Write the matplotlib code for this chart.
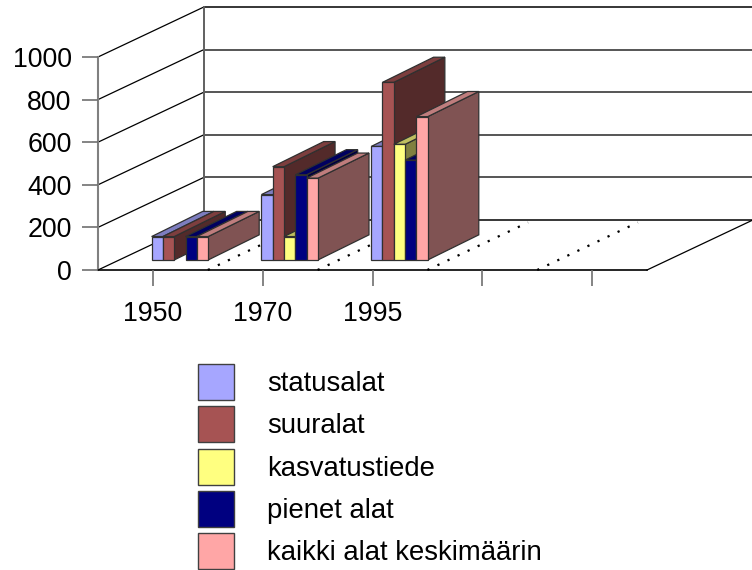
import matplotlib
matplotlib.use("Agg")
import matplotlib.pyplot as plt
from matplotlib.patches import Patch

plt.rcParams['font.family'] = ['Liberation Sans', 'DejaVu Sans']

# Data
categories = ['1950', '1970', '1995', '', '']
series_names = ['statusalat', 'suuralat', 'kasvatustiede', 'pienet alat', 'kaikki alat keskimäärin']
statusalat = [110, 307, 533]
suuralat = [110, 438, 834]
kasvatustiede = [0, 110, 543]
pienet_alat = [110, 400, 469]
kaikki_alat = [110, 384, 673]
yticks = [0, 200, 400, 600, 800, 1000]

series = [statusalat, suuralat, kasvatustiede, pienet_alat, kaikki_alat]
colors = ['#A6A6FF', '#A65353', '#FFFF80', '#000080', '#FFA6A6']

# Fake 3D: how far the back wall and the bars are shifted, in axis units
wall_dx = 0.965
wall_dy = 235
bar_dx = 0.465
bar_dy = 118
bar_base = 47
bar_start = -0.012
bar_w = 0.103


def shade(color, k):
    rgb = matplotlib.colors.to_rgb(color)
    return tuple(c * k for c in rgb)


fig = plt.figure(figsize=(7.52, 5.7), dpi=100)
ax = fig.add_axes([98 / 752, 300 / 570, 549 / 752, 213 / 570])
ax.set_xlim(-0.5, 4.5)
ax.set_ylim(0, 1000)
ax.patch.set_visible(False)
for s in ax.spines.values():
    s.set_visible(False)

# Walls and floor
left = -0.5
right = 4.5
for v in yticks:
    ax.plot([left, left + wall_dx], [v, v + wall_dy], color='black', lw=0.9, clip_on=False, zorder=1)
    c = 'black' if v in (0, 1000) else '#555555'
    w = 1.1 if v in (0, 1000) else 1.4
    ax.plot([left + wall_dx, right + wall_dx], [v + wall_dy, v + wall_dy], color=c, lw=w, clip_on=False, zorder=1)
ax.plot([left, left], [0, 1000], color='#808080', lw=1.5, clip_on=False, zorder=1)
ax.plot([left + wall_dx, left + wall_dx], [wall_dy, 1000 + wall_dy], color='#606060', lw=1.4, clip_on=False, zorder=1)
ax.plot([right, right + wall_dx], [0, wall_dy], color='black', lw=0.9, clip_on=False, zorder=1)
ax.plot([left, right], [0, 0], color='black', lw=1.2, clip_on=False, zorder=1)

# Dotted floor lines between the categories
for i in range(4):
    ax.plot([i + 0.5, i + 0.5 + wall_dx * 0.95], [0, wall_dy * 0.95], color='black', lw=1.6,
            linestyle=(0, (1, 4)), clip_on=False, zorder=1)

# Bars, left to right so the right ones cover the sides of the left ones
z = 2
edge = '#303030'
for g in range(3):
    for i in range(5):
        v = series[i][g]
        if v == 0:
            continue
        x0 = g + bar_start + i * bar_w
        x1 = x0 + bar_w
        top = bar_base + v
        ax.fill([x1, x1 + bar_dx, x1 + bar_dx, x1],
                [bar_base, bar_base + bar_dy, top + bar_dy, top],
                facecolor=shade(colors[i], 0.5), edgecolor=edge, lw=0.9, clip_on=False, zorder=z)
        ax.fill([x0, x1, x1 + bar_dx, x0 + bar_dx],
                [top, top, top + bar_dy, top + bar_dy],
                facecolor=shade(colors[i], 0.75), edgecolor=edge, lw=0.9, clip_on=False, zorder=z)
        ax.bar(x0, v, width=bar_w, bottom=bar_base, align='edge', color=colors[i],
               edgecolor=edge, linewidth=0.9, clip_on=False, zorder=z)
        z += 1

ax.set_xticks(range(5))
ax.set_xticklabels(categories)
ax.set_yticks(yticks)
ax.tick_params(axis='x', length=11.5, width=1.2, color='#707070', pad=11, labelsize=19.3)
ax.tick_params(axis='y', length=11.5, width=1.2, color='#707070', pad=7.5, labelsize=19.3)

handles = [Patch(facecolor=c, edgecolor='#404040', linewidth=1.0) for c in colors]
fig.legend(handles, series_names, loc='upper left', bbox_to_anchor=(198 / 752, 1 - 364 / 570),
           frameon=False, fontsize=19.8, handlelength=1.31, handleheight=1.637, labelspacing=0.23,
           handletextpad=1.2, borderpad=0, borderaxespad=0)

fig.savefig('out.png', dpi=100)
